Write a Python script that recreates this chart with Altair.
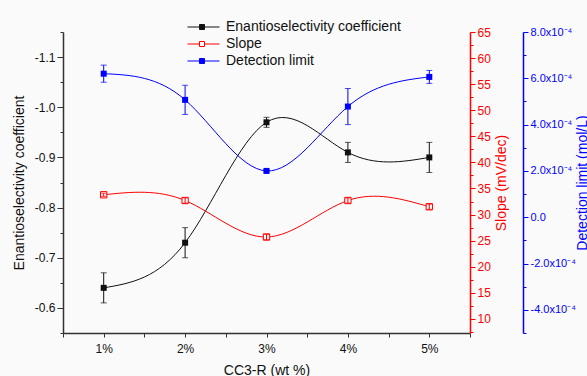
import altair as alt
import pandas as pd

FONT = "Liberation Sans, Arial, sans-serif"

# ---- data ----
x_vals = [1, 2, 3, 4, 5]
series_names = ["Enantioselectivity coefficient", "Slope", "Detection limit"]
series_colors = ["#111111", "#ff0000", "#0000ff"]

enantio = [-0.64, -0.73, -0.97, -0.91, -0.90]
enantio_err = [0.03, 0.03, 0.01, 0.02, 0.03]

slope = [33.8, 32.7, 25.7, 32.7, 31.5]
slope_err = [0.3, 0.5, 0.5, 0.5, 0.5]

dlimit = [6.2e-4, 5.07e-4, 2.0e-4, 4.78e-4, 6.06e-4]
dlimit_err = [0.37e-4, 0.63e-4, 0.05e-4, 0.78e-4, 0.28e-4]

# tick positions (major and minor)
x_ticks = [0.5, 1, 1.5, 2, 2.5, 3, 3.5, 4, 4.5, 5, 5.5]
left_major = [-1.1, -1.0, -0.9, -0.8, -0.7, -0.6]
left_minor = [-1.15, -1.05, -0.95, -0.85, -0.75, -0.65, -0.55]
slope_major = [10, 15, 20, 25, 30, 35, 40, 45, 50, 55, 60, 65]
slope_minor = [7.5, 12.5, 17.5, 22.5, 27.5, 32.5, 37.5, 42.5, 47.5, 52.5, 57.5, 62.5]
dl_major = [-4e-4, -2e-4, 0.0, 2e-4, 4e-4, 6e-4, 8e-4]
dl_minor = [-5e-4, -3e-4, -1e-4, 1e-4, 3e-4, 5e-4, 7e-4]

x_title = "CC3-R (wt %)"
y_titles = ["Enantioselectivity coefficient", "Slope (mV/dec)", "Detection limit (mol/L)"]

BG = "#fafafa"

left_domain = [-1.15, -0.55]
slope_domain = [7.3, 65]
dl_domain = [-5e-4, 8e-4]


def frame(vals, errs, name):
    return pd.DataFrame({
        "x": x_vals,
        "y": vals,
        "lo": [v - e for v, e in zip(vals, errs)],
        "hi": [v + e for v, e in zip(vals, errs)],
        "series": name,
    })


df_e = frame(enantio, enantio_err, series_names[0])
df_s = frame(slope, slope_err, series_names[1])
df_d = frame(dlimit, dlimit_err, series_names[2])

color_scale = alt.Scale(domain=series_names, range=series_colors)

fill_expr = ("datum.value === '%s' ? '%s' : datum.value === '%s' ? '%s' : '%s'"
             % (series_names[1], BG, series_names[2], series_colors[2], series_colors[0]))
stroke_expr = ("datum.value === '%s' ? '%s' : datum.value === '%s' ? '%s' : '%s'"
               % (series_names[1], series_colors[1], series_names[2], series_colors[2], series_colors[0]))

legend = alt.Legend(
    orient="none", legendX=132, legendY=-12, direction="vertical",
    symbolType="M-2.9,0L-0.5,0M0.5,0L3.5,0M-0.5,-0.5L0.5,-0.5L0.5,0.5L-0.5,0.5Z",
    symbolSize=100, symbolStrokeWidth=1,
    symbolFillColor={"expr": fill_expr},
    symbolStrokeColor={"expr": stroke_expr},
    symbolOpacity=1,
    labelFont=FONT, labelFontSize=14, labelColor="#111111", labelOffset=17,
    labelLimit=400, rowPadding=3, padding=0,
)

x_scale = alt.Scale(domain=[0.5, 5.5], nice=False, zero=False)
x_axis = alt.Axis(
    values=x_ticks, labelExpr="datum.value % 1 === 0 ? datum.value + '%' : ''",
    tickSize=4,
    title=x_title, titleFont=FONT, titleFontSize=14, titleFontWeight="normal",
    titleColor="#111111", labelFont=FONT, labelFontSize=12, labelColor="#111111",
    domainColor="#333333", domainWidth=1.5, tickColor="#333333",
    labelPadding=6, titlePadding=9, grid=False, labelFlush=False, labelOverlap=False,
)

left_axis = alt.Axis(
    orient="left", values=left_major,
    labelExpr="replace(format(datum.value, '.1f'), '\u2212', '-')",
    tickSize=6,
    title=y_titles[0], titleFont=FONT, titleFontSize=14, titleFontWeight="normal",
    titleColor="#111111", labelFont=FONT, labelFontSize=12, labelColor="#111111",
    domainColor="#333333", domainWidth=1.5, tickColor="#333333",
    labelPadding=2, titlePadding=8, grid=False, labelOverlap=False, labelFlush=False,
)

slope_axis = alt.Axis(
    orient="right", values=slope_major,
    labelExpr="format(datum.value, 'd')",
    tickSize=5,
    title=y_titles[1], titleFont=FONT, titleFontSize=14, titleFontWeight="normal",
    titleColor="#ff0000", titleAngle=270, labelFont=FONT, labelFontSize=12, labelColor="#ff0000",
    domainColor="#ff0000", domainWidth=1.5, tickColor="#ff0000",
    labelPadding=2, titlePadding=18, grid=False, labelOverlap=False, labelFlush=False,
)

dl_axis = alt.Axis(
    orient="right", offset=53, values=dl_major,
    labelExpr=("abs(datum.value) < 1e-9 ? '0.0' : "
               "replace(format(datum.value*1e4, '.1f'), '\u2212', '-') + 'x10\u207b\u2074'"),
    tickSize=5,
    title=y_titles[2], titleFont=FONT, titleFontSize=14, titleFontWeight="normal",
    titleColor="#0000ff", titleAngle=270, labelFont=FONT, labelFontSize=11, labelColor="#0000ff",
    domainColor="#0000ff", domainWidth=1.5, tickColor="#0000ff",
    labelPadding=2, titlePadding=14, grid=False, labelOverlap=False, labelFlush=False,
)


def minor_axis(orient, values, color, offset=0):
    return alt.Axis(orient=orient, offset=offset, values=values, tickSize=3,
                    tickColor=color, labels=False, domain=False, grid=False, title="")


def X():
    return alt.X("x:Q", scale=x_scale, axis=x_axis, title=x_title)


def series_layer(df, color, yscale, yaxis, ytitle, filled):
    line = alt.Chart(df).mark_line(interpolate="natural", strokeWidth=1).encode(
        x=X(),
        y=alt.Y("y:Q", scale=yscale, axis=yaxis, title=ytitle),
        color=alt.Color("series:N", scale=color_scale, legend=legend, title=None),
    )
    if filled:
        pts = alt.Chart(df).mark_point(shape="square", size=36, filled=True,
                                       color=color, opacity=1)
    else:
        pts = alt.Chart(df).mark_point(shape="square", size=40, filled=False,
                                       fill=BG, stroke=color, strokeWidth=1,
                                       opacity=1, fillOpacity=1)
    pts = pts.encode(x=X(), y=alt.Y("y:Q", scale=yscale, axis=yaxis, title=ytitle))
    err = alt.Chart(df).mark_errorbar(ticks={"size": 6}, color=color, thickness=1).encode(
        x=X(),
        y=alt.Y("lo:Q", scale=yscale, axis=yaxis, title=ytitle),
        y2="hi:Q",
    )
    return alt.layer(line, pts, err)


def minor_layer(df, domain, axis, reverse=False):
    if reverse:
        sc = alt.Scale(domain=domain, reverse=True, nice=False, zero=False)
    else:
        sc = alt.Scale(domain=domain, nice=False, zero=False)
    return alt.Chart(df).mark_point(opacity=0).encode(
        x=X(),
        y=alt.Y("y:Q", scale=sc, axis=axis, title=""),
    )


layer_e = series_layer(df_e, series_colors[0],
                       alt.Scale(domain=left_domain, reverse=True, nice=False, zero=False),
                       left_axis, y_titles[0], True)
layer_s = series_layer(df_s, series_colors[1],
                       alt.Scale(domain=slope_domain, nice=False, zero=False),
                       slope_axis, y_titles[1], False)
layer_d = series_layer(df_d, series_colors[2],
                       alt.Scale(domain=dl_domain, nice=False, zero=False),
                       dl_axis, y_titles[2], True)

minor_e = minor_layer(df_e, left_domain, minor_axis("left", left_minor, "#333333"), reverse=True)
minor_s = minor_layer(df_s, slope_domain, minor_axis("right", slope_minor, "#ff0000"))
minor_d = minor_layer(df_d, dl_domain, minor_axis("right", dl_minor, "#0000ff", 53))

chart = alt.layer(layer_e, layer_s, layer_d, minor_e, minor_s, minor_d).resolve_scale(
    y="independent"
).properties(
    width=407, height=301,
    padding={"left": 63, "top": 32, "right": 117, "bottom": 43},
    autosize=alt.AutoSizeParams(type="none"),
    background=BG,
).configure_view(stroke="transparent")

chart.save("out.html", embed_options={"renderer": "svg", "actions": False})
